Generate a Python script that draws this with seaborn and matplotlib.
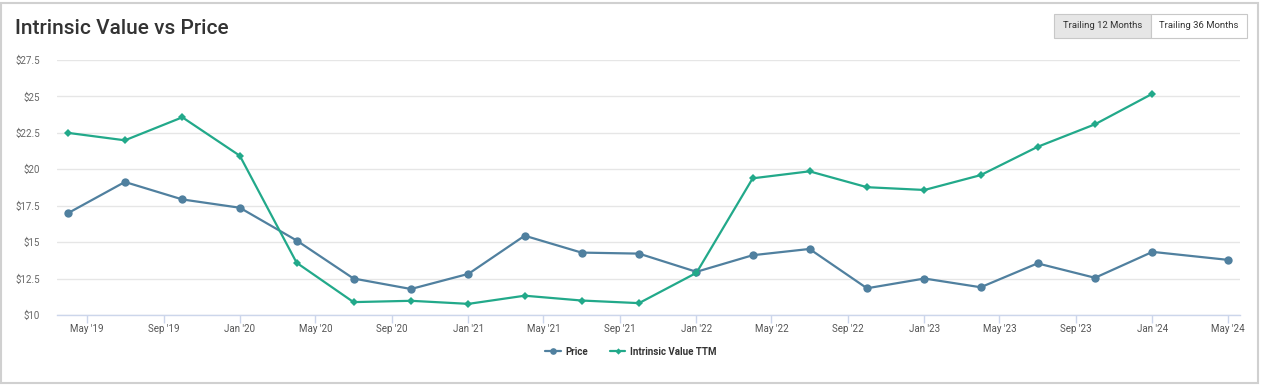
import pandas as pd
import seaborn as sns
import matplotlib.pyplot as plt
import matplotlib.dates as mdates
from matplotlib.patches import Rectangle
import numpy as np

# quarterly observations, last price point is the current one
dates = ['2019-04-01', '2019-07-01', '2019-10-01', '2020-01-01', '2020-04-01',
         '2020-07-01', '2020-10-01', '2021-01-01', '2021-04-01', '2021-07-01',
         '2021-10-01', '2022-01-01', '2022-04-01', '2022-07-01', '2022-10-01',
         '2023-01-01', '2023-04-01', '2023-07-01', '2023-10-01', '2024-01-01',
         '2024-05-01']
price = [16.99, 19.13, 17.93, 17.36, 15.11, 12.50, 11.78, 12.82, 15.44, 14.28,
         14.21, 12.96, 14.10, 14.53, 11.83, 12.50, 11.90, 13.54, 12.55, 14.33,
         13.78]
intrinsic = [22.50, 21.99, 23.57, 20.93, 13.58, 10.88, 10.97, 10.76, 11.32, 10.99,
             10.81, 12.89, 19.38, 19.86, 18.77, 18.58, 19.60, 21.54, 23.09, 25.19,
             np.nan]

price_color = '#50809f'
iv_color = '#22a98a'

df = pd.DataFrame({'date': pd.to_datetime(dates), 'Price': price,
                   'Intrinsic Value TTM': intrinsic})

sns.set_style("white")
plt.rcParams['font.family'] = ['Roboto', 'DejaVu Sans']

fig = plt.figure(figsize=(12.62, 3.85), dpi=100)
ax = fig.add_axes([0.045, 0.182, 0.9375, 0.662])

sns.lineplot(data=df, x='date', y='Price', ax=ax, color=price_color,
             marker='o', markersize=6, markeredgewidth=0, linewidth=1.6,
             label='Price')
sns.lineplot(data=df.dropna(), x='date', y='Intrinsic Value TTM', ax=ax,
             color=iv_color, marker='D', markersize=4, markeredgewidth=0,
             linewidth=1.6, label='Intrinsic Value TTM')

ax.set_xlim(pd.Timestamp('2019-03-14'), pd.Timestamp('2024-05-20'))
ax.set_ylim(10, 27.5)
ax.set_yticks(np.arange(10, 27.6, 2.5))
ax.set_yticklabels(['$%g' % v for v in np.arange(10, 27.6, 2.5)])
ax.xaxis.set_major_locator(mdates.MonthLocator(bymonth=[1, 5, 9]))
ax.xaxis.set_major_formatter(mdates.DateFormatter("%b '%y"))
ax.set_xlabel('')
ax.set_ylabel('')

ax.grid(axis='y', color='#e6e6e6', linewidth=1)
ax.set_axisbelow(True)
for s in ['top', 'right', 'left']:
    ax.spines[s].set_visible(False)
ax.spines['bottom'].set_color('#ccd6eb')
ax.spines['bottom'].set_linewidth(1)
ax.tick_params(axis='x', length=5.5, width=1, color='#ccd6eb', labelsize=7,
               labelcolor='#555555', pad=1, bottom=True)
ax.tick_params(axis='y', length=0, labelsize=7, labelcolor='#666666', pad=12)

leg = ax.legend(loc='center', bbox_to_anchor=(0.5, 0.086), bbox_transform=fig.transFigure,
                ncol=2, frameon=False, handlelength=1.6, columnspacing=2.2,
                handletextpad=0.5, markerscale=0.8,
                prop={'size': 7, 'weight': 'bold'})
for t in leg.get_texts():
    t.set_color('#333333')

fig.text(15 / 1262, 1 - 29 / 385, 'Intrinsic Value vs Price', fontsize=15,
         fontweight='medium', color='#333333', va='center', ha='left')

# card border
fig.patches.append(Rectangle((1 / 1262, 2 / 385), 1257 / 1262, 380 / 385,
                             transform=fig.transFigure, fill=False,
                             edgecolor='#d0d0d0', linewidth=1.5))
# period buttons
fig.patches.append(Rectangle((1054 / 1262, 1 - 38 / 385), 97 / 1262, 24 / 385,
                             transform=fig.transFigure, facecolor='#e6e6e6',
                             edgecolor='#c8c8c8', linewidth=0.8))
fig.patches.append(Rectangle((1151 / 1262, 1 - 38 / 385), 96 / 1262, 24 / 385,
                             transform=fig.transFigure, facecolor='white',
                             edgecolor='#c8c8c8', linewidth=0.8))
fig.text(1102.5 / 1262, 1 - 26 / 385, 'Trailing 12 Months', fontsize=6.8,
         color='#333333', ha='center', va='center')
fig.text(1199 / 1262, 1 - 26 / 385, 'Trailing 36 Months', fontsize=6.8,
         color='#333333', ha='center', va='center')

fig.savefig('out.png', dpi=100)
